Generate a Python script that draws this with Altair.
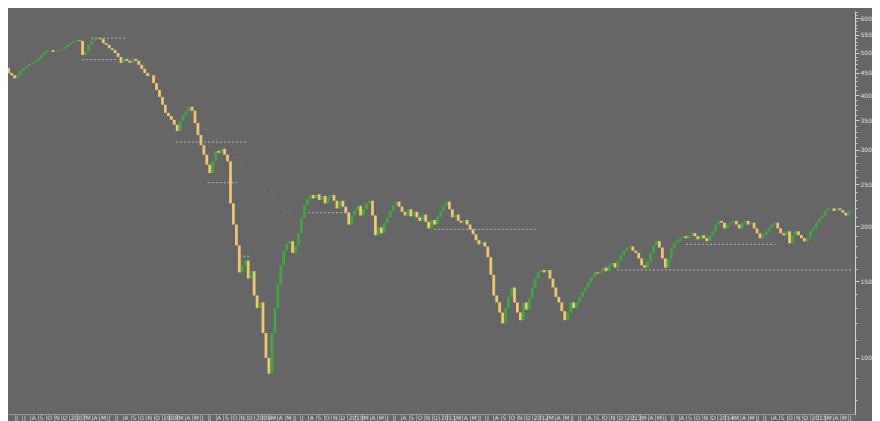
import altair as alt
import pandas as pd

# ---- data (closes, roughly every ~11.6 days) ----
close = [
    461, 449, 444, 437, 444, 454, 461, 466, 471, 474, 479, 486, 494, 502, 507, 507, 502, 504, 507, 510,
    515, 521, 526, 532, 534, 532, 494, 504, 521, 532, 537, 540, 537, 526, 521, 512, 507, 499, 489, 474,
    484, 479, 474, 484, 479, 469, 459, 449, 442, 444, 426, 411, 396, 380, 364, 358, 351, 342, 331, 349,
    360, 368, 376, 368, 345, 324, 307, 292, 277, 265, 282, 298, 295, 301, 292, 282, 226, 202, 181, 157,
    163, 167, 152, 158, 139, 130, 134, 114, 100, 92, 114, 130, 147, 163, 176, 183, 185, 174, 181, 193,
    209, 224, 231, 236, 232, 237, 230, 235, 226, 233, 236, 229, 220, 229, 222, 215, 202, 212, 217, 223,
    212, 219, 226, 229, 212, 191, 199, 193, 204, 210, 217, 224, 228, 222, 216, 212, 219, 211, 216, 210,
    206, 213, 205, 198, 207, 202, 210, 217, 223, 228, 219, 210, 213, 206, 204, 207, 202, 197, 192, 186,
    182, 184, 180, 170, 155, 139, 134, 127, 120, 130, 138, 145, 134, 127, 122, 134, 129, 137, 145, 152,
    157, 159, 157, 159, 152, 145, 138, 134, 128, 122, 127, 134, 130, 134, 138, 142, 145, 149, 153, 157,
    156, 158, 161, 158, 163, 165, 161, 167, 172, 176, 179, 180, 176, 174, 169, 163, 161, 166, 174, 181,
    185, 179, 169, 161, 169, 178, 183, 185, 188, 190, 188, 191, 193, 190, 187, 191, 188, 185, 191, 195,
    202, 206, 204, 198, 202, 204, 206, 202, 198, 204, 206, 202, 204, 198, 193, 188, 191, 195, 198, 202,
    204, 198, 193, 191, 195, 183, 191, 195, 191, 188, 185, 188, 195, 198, 204, 209, 212, 217, 220, 220,
    217, 220, 218, 215, 212, 217,
]
first_open = 455
first_date = "2006-04-26"
last_date = "2015-06-03"

# horizontal dotted levels
level_start = ["2007-03-29", "2007-02-22", "2008-02-27", "2008-07-01", "2008-11-02",
               "2009-08-01", "2010-12-12", "2013-08-30", "2012-12-01"]
level_end = ["2007-08-12", "2007-07-16", "2008-12-03", "2008-10-25", "2008-12-15",
             "2010-01-23", "2012-01-25", "2014-08-16", "2015-06-15"]
level_value = [540, 482, 312, 252, 171, 215, 197, 182, 159]

# diagonal trend line
trend_start = ["2007-10-21"]
trend_end = ["2009-07-05"]
trend_v1 = [473]
trend_v2 = [198]

y_ticks = list(range(80, 630, 10))

BG = "#666666"
UP = "#3fa83f"
DOWN = "#f2c66a"

opens = [first_open] + close[:-1]
dates = pd.date_range(first_date, last_date, periods=len(close))
df = pd.DataFrame({"date": dates, "open": opens, "close": close})

lv = pd.DataFrame({"start": pd.to_datetime(level_start), "end": pd.to_datetime(level_end),
                   "value": level_value})
tr = pd.DataFrame({"start": pd.to_datetime(trend_start), "end": pd.to_datetime(trend_end),
                   "v1": trend_v1, "v2": trend_v2})

xscale = alt.Scale(domain=[alt.DateTime(year=2006, month=5, date=25),
                           alt.DateTime(year=2015, month=6, date=8)], nice=False)
yscale = alt.Scale(type="log", domain=[74.4, 623], nice=False)

xaxis = alt.Axis(
    title=None, grid=False,
    tickCount=alt.TimeIntervalStep(interval="month", step=1),
    labelExpr="month(datum.value) == 0 ? timeFormat(datum.value, '%Y') : "
              "(month(datum.value) == 1 ? '' : slice(timeFormat(datum.value, '%b'), 0, 1))",
    labelAlign="left", labelOffset=1, labelPadding=-8, labelFontSize=6,
    labelColor="#d8d8d8", labelFont="DejaVu Sans", labelOverlap=False, labelFlush=False,
    tickSize=8, tickColor="#9a9a9a", domainColor="#9a9a9a",
)
yaxis = alt.Axis(
    title=None, grid=False, orient="right", values=y_ticks,
    labelExpr="(datum.value % 50 == 0 && datum.value >= 100 && datum.value <= 600) ? format(datum.value, 'd') : ''",
    labelFontSize=6, labelColor="#e0e0e0", labelFont="DejaVu Sans", labelPadding=1,
    labelOverlap=False,
    tickSize=alt.condition("datum.value % 50 == 0", alt.value(4), alt.value(2)),
    tickColor="#d0d0d0", domainColor="#d0d0d0",
)

candles = alt.Chart(df).mark_bar(size=2.8, clip=True).encode(
    x=alt.X("date:T", scale=xscale, axis=xaxis),
    y=alt.Y("open:Q", scale=yscale, axis=yaxis),
    y2="close:Q",
    color=alt.condition("datum.close >= datum.open", alt.value(UP), alt.value(DOWN)),
)

levels = alt.Chart(lv).mark_rule(color="#b8b8b8", strokeDash=[2, 2], strokeWidth=1, clip=True).encode(
    x=alt.X("start:T", scale=xscale, title=None),
    x2="end:T",
    y=alt.Y("value:Q", scale=yscale, title=None),
)

trend = alt.Chart(tr).mark_rule(color="#c8743c", strokeDash=[2, 3], strokeWidth=1, opacity=0.85).encode(
    x=alt.X("start:T", scale=xscale, title=None),
    x2="end:T",
    y=alt.Y("v1:Q", scale=yscale, title=None),
    y2="v2:Q",
)

chart = alt.layer(candles, levels, trend).properties(
    width=847, height=403,
    padding=0,
    background=BG,
).configure_view(fill=BG, stroke=None)

chart.save("out.html", embed_options={"renderer": "svg", "actions": False})
